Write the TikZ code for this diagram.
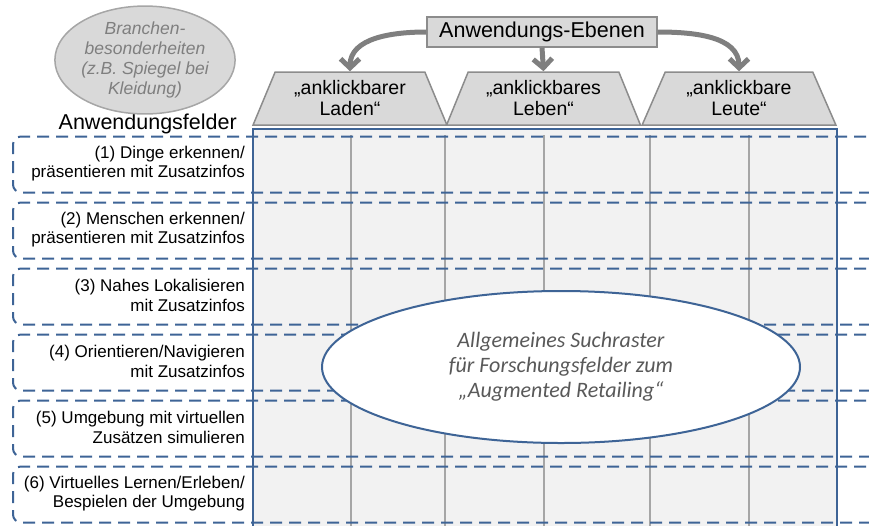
\documentclass[tikz,border=0pt]{standalone}
\usepackage{fontspec}
\setmainfont{Liberation Sans}
\newfontfamily\carlitofont{Carlito}
\usetikzlibrary{shapes.geometric,arrows.meta}
\definecolor{rowblue}{RGB}{62,100,150}
\definecolor{lightfill}{RGB}{242,242,242}
\definecolor{boxfill}{RGB}{217,217,217}
\definecolor{boxline}{RGB}{140,140,140}
\definecolor{gridgray}{RGB}{166,166,166}
\definecolor{arrowgray}{RGB}{127,127,127}
\definecolor{ovaltext}{RGB}{89,89,89}
\tikzset{
  rowbox/.style={draw=rowblue, line width=2pt, dash pattern=on 12pt off 7pt, rounded corners=8pt,
    minimum width=880pt, minimum height=56pt, inner sep=0pt, anchor=north west},
  rowtext/.style={align=right, anchor=east, inner sep=0pt, font=\fontsize{17}{19.5}\selectfont},
  trapbox/.style={trapezium, trapezium stretches=true, trapezium left angle=65, trapezium right angle=65,
    draw=boxline, line width=1.5pt, fill=boxfill, minimum width=194pt, minimum height=53pt, inner sep=0pt,
    align=center, font=\fontsize{19.5}{21}\selectfont},
  levelbox/.style={draw=boxline, line width=1.2pt, fill=boxfill, minimum width=230pt, minimum height=30pt,
    inner sep=0pt, font=\fontsize{21.5}{24}\selectfont},
  levelarrow/.style={draw=arrowgray, line width=5pt, -{Straight Barb[length=9pt,width=19pt]}},
  gridline/.style={draw=gridgray, line width=2.5pt},
}
\begin{document}
\begin{tikzpicture}[x=1pt,y=-1pt]
\useasboundingbox (0,0) rectangle (869,525);
\clip (0,0) rectangle (869,525);
% grid background
\fill[lightfill] (253,129) rectangle (837,530);
\foreach \gx in {351,445,544,650,749}{
  \draw[gridline] (\gx,135) -- (\gx,530);
}
% rows
\node[rowbox] (r1) at (12,135.5) {};
\node[rowbox] (r2) at (12,201.5) {};
\node[rowbox] (r3) at (12,267.5) {};
\node[rowbox] (r4) at (12,333.5) {};
\node[rowbox] (r5) at (12,399.5) {};
\node[rowbox] (r6) at (12,465.5) {};
\node[rowtext] (l1) at (245,163.5) {(1) Dinge erkennen/\\präsentieren mit Zusatzinfos};
\node[rowtext] (l2) at (245,229.5) {(2) Menschen erkennen/\\präsentieren mit Zusatzinfos};
\node[rowtext] (l3) at (245,295.5) {(3) Nahes Lokalisieren\\mit Zusatzinfos};
\node[rowtext] (l4) at (245,361.5) {(4) Orientieren/Navigieren\\mit Zusatzinfos};
\node[rowtext] (l5) at (245,427.5) {(5) Umgebung mit virtuellen\\Zusätzen simulieren};
\node[rowtext] (l6) at (245,493.5) {(6) Virtuelles Lernen/Erleben/\\Bespielen der Umgebung};
% grid border
\draw[rowblue, line width=2pt] (253,530) -- (253,129) -- (837,129) -- (837,530);
% trapezoids
\node[trapbox] (t1) at (350,98.5) {„anklickbarer\\Laden“};
\node[trapbox] (t2) at (543.5,98.5) {„anklickbares\\Leben“};
\node[trapbox] (t3) at (739,98.5) {„anklickbare\\Leute“};
% level box and arrows
\node[levelbox] (lv) at (542,32) {Anwendungs-Ebenen};
\draw[levelarrow] (lv.west) to[out=180,in=90] (t1.north);
\draw[levelarrow] (lv.south) -- (t2.north);
\draw[levelarrow] (lv.east) to[out=0,in=90] (t3.north);
% heading
\node[anchor=base east, inner sep=0pt, font=\fontsize{21.5}{24}\selectfont] (af) at (237,129) {Anwendungsfelder};
% Branchen oval
\node[ellipse, draw=gridgray, line width=1.5pt, fill=boxfill, minimum width=176pt, minimum height=80pt,
  inner sep=0pt, align=center, text=arrowgray, font=\fontsize{17.5}{20}\selectfont\itshape] (br) at (145,60)
  {Branchen-\\besonderheiten\\(z.B. Spiegel bei\\Kleidung)};
% central oval
\node[ellipse, draw=rowblue, line width=2pt, fill=white, minimum width=478pt, minimum height=152pt,
  inner sep=0pt, align=center, text=ovaltext, font=\carlitofont\fontsize{22}{25}\selectfont\itshape] (ov) at (561,367)
  {Allgemeines Suchraster\\für Forschungsfelder zum\\„Augmented Retailing“};
\end{tikzpicture}
\end{document}
